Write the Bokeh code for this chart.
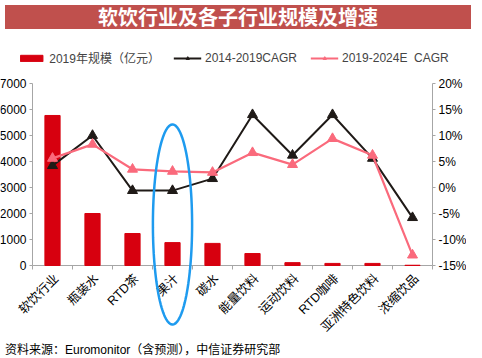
import math
import numpy as np
from bokeh.plotting import figure
from bokeh.models import (Range1d, LinearAxis, FixedTicker, Legend, LegendItem,
                          PolyAnnotation, Div, PrintfTickFormatter)
from bokeh.core.properties import value
from bokeh.layouts import column
from bokeh.embed import file_html
from bokeh.resources import INLINE

title = "软饮行业及各子行业规模及增速"
categories = ["软饮行业", "瓶装水", "RTD茶", "果汁", "碳水", "能量饮料", "运动饮料", "RTD咖啡", "亚洲特色饮料", "浓缩饮品"]
size_2019 = [5770, 2000, 1230, 880, 850, 460, 110, 80, 80, 10]
cagr_14_19 = [4.2, 10.0, -0.6, -0.6, 1.7, 14.0, 6.2, 14.0, 5.6, -5.8]
cagr_19_24 = [5.6, 8.3, 3.5, 3.1, 2.9, 6.7, 4.4, 9.4, 6.2, -13.0]
left_ticks = [0, 1000, 2000, 3000, 4000, 5000, 6000, 7000]
right_ticks = [-15, -10, -5, 0, 5, 10, 15, 20]
series_names = ["2019年规模（亿元）", "2014-2019CAGR", "2019-2024E  CAGR"]
source_text = "资料来源：Euromonitor（含预测），中信证券研究部"
highlight = "果汁"

RED = "#D7000F"
BLACK = "#1F1A17"
PINK = "#FA6A7C"
AXIS = "#A6A6A6"
BLUE = "#1E9BEF"
FONT = "Liberation Sans, Noto Sans CJK SC"

n = len(categories)
xpos = [i + 0.5 for i in range(n)]

# layout (pixels)
FIG_W = 466
PAD_L, PAD_R = 32, 34   # room left/right of the value area for the y axes
PLOT_W = FIG_W - PAD_L - PAD_R
PLOT_H = 182            # height of the value area (0..7000)
TOP_H = 49              # space above the top tick (legend)
EXT_H = 73              # space below the zero line (labels / ellipse)
fig_h = TOP_H + PLOT_H + EXT_H
cat_px = PLOT_W / n
lspan = left_ticks[-1] - left_ticks[0]
rspan = right_ticks[-1] - right_ticks[0]
px = lspan / PLOT_H     # data units per pixel (left axis)

banner = Div(text=title, width=FIG_W, height=24,
             styles={"background-color": "#C0504D", "color": "white", "font-size": "20px",
                     "font-weight": "bold", "text-align": "center", "line-height": "24px",
                     "font-family": "Noto Sans CJK SC"})

p = figure(x_range=Range1d(-PAD_L / cat_px, n + PAD_R / cat_px),
           y_range=Range1d(left_ticks[0] - EXT_H / PLOT_H * lspan, left_ticks[-1] + TOP_H / PLOT_H * lspan),
           width=FIG_W, height=fig_h, output_backend="svg", toolbar_location=None,
           x_axis_location=None, y_axis_location=None,
           min_border_left=0, min_border_right=0, min_border_top=0, min_border_bottom=0)
p.extra_y_ranges = {"pct": Range1d(right_ticks[0] - EXT_H / PLOT_H * rspan,
                                   right_ticks[-1] + TOP_H / PLOT_H * rspan)}
p.grid.visible = False
p.outline_line_color = None

def style_axis(ax):
    ax.axis_line_color = AXIS
    ax.major_tick_line_color = AXIS
    ax.minor_tick_line_color = None
    ax.major_tick_in = 0
    ax.major_tick_out = 3
    ax.major_label_standoff = 3
    ax.major_label_text_font = FONT
    ax.major_label_text_font_size = "12px"
    ax.major_label_text_color = "black"

yl = LinearAxis(ticker=FixedTicker(ticks=left_ticks), bounds=(left_ticks[0], left_ticks[-1]),
                fixed_location=0)
style_axis(yl)
p.add_layout(yl, "left")

yr = LinearAxis(y_range_name="pct", ticker=FixedTicker(ticks=right_ticks),
                formatter=PrintfTickFormatter(format="%d%%"), bounds=(right_ticks[0], right_ticks[-1]),
                fixed_location=n)
style_axis(yr)
p.add_layout(yr, "right")

# category axis
p.segment(x0=[0], x1=[n], y0=[0], y1=[0], line_color=AXIS, line_width=1)
bnd = list(range(n + 1))
p.segment(x0=bnd, x1=bnd, y0=[0] * (n + 1), y1=[-4 * px] * (n + 1), line_color=AXIS, line_width=1)
p.text(x=xpos, y=[0] * n, text=categories, angle=math.pi / 4, text_align="right",
       text_baseline="middle", x_offset=4, y_offset=11, text_font=value(FONT),
       text_font_size="12.5px", text_color="black")

bars = p.vbar(x=xpos, top=size_2019, width=0.38, color=RED)
l1 = p.line(xpos, cagr_14_19, y_range_name="pct", color=BLACK, line_width=2)
s1 = p.scatter(xpos, cagr_14_19, y_range_name="pct", marker="triangle", size=10, color=BLACK)
l2 = p.line(xpos, cagr_19_24, y_range_name="pct", color=PINK, line_width=2.2)
s2 = p.scatter(xpos, cagr_19_24, y_range_name="pct", marker="triangle", size=10, color=PINK)

legend = Legend(items=[LegendItem(label=series_names[0], renderers=[bars]),
                       LegendItem(label=series_names[1], renderers=[l1, s1]),
                       LegendItem(label=series_names[2], renderers=[l2, s2])],
                orientation="horizontal", location="top_center", border_line_color=None,
                background_fill_alpha=0, padding=0, margin=15, spacing=13, label_standoff=4,
                glyph_width=28, glyph_height=8, label_height=12,
                label_text_font=FONT, label_text_font_size="12px")
p.add_layout(legend, "center")

# highlight ellipse around one category
ci = xpos[categories.index(highlight)]
t = np.linspace(0, 2 * np.pi, 120)
ell = PolyAnnotation(xs=list(ci + 0.49 * np.cos(t)), ys=list(1577 + 3846 * np.sin(t)),
                     fill_alpha=0, line_color=BLUE, line_alpha=1, line_width=2.5)
p.add_layout(ell)

source = Div(text=source_text, width=FIG_W, height=14,
             styles={"font-size": "12px", "line-height": "14px", "font-family": FONT, "color": "black"})

layout = column(banner, p, source)
open("out.html", "w").write(file_html(layout, INLINE))
